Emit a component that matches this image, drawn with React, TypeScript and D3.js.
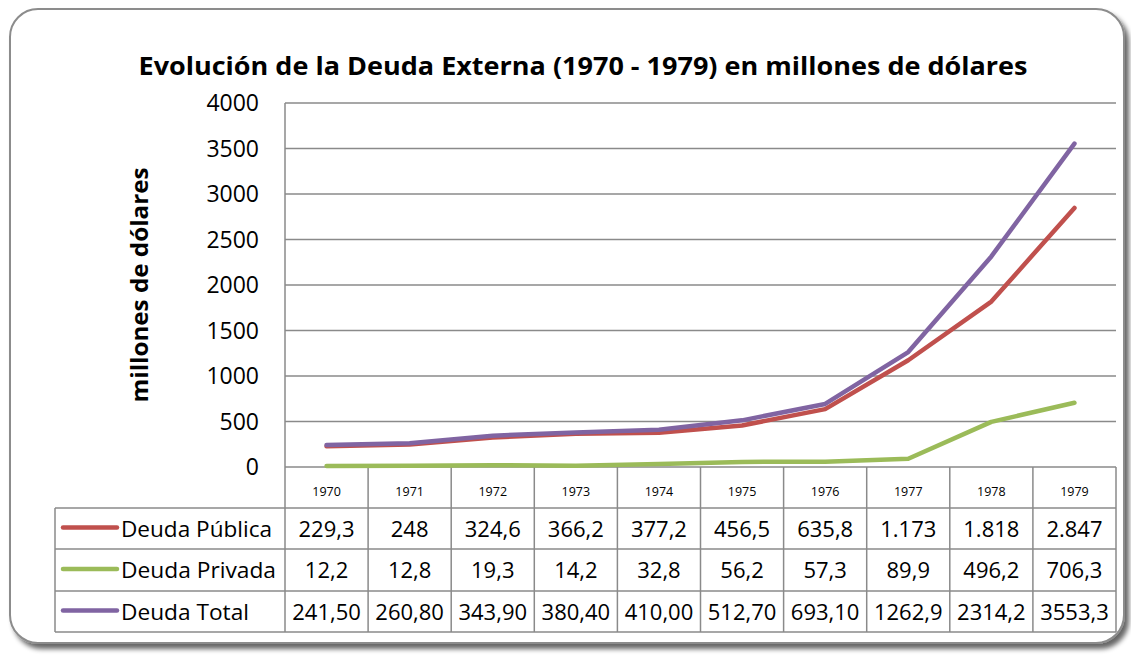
import React from "react";
import * as d3 from "d3";

const years = ["1970", "1971", "1972", "1973", "1974", "1975", "1976", "1977", "1978", "1979"];
const publica = [229.3, 248, 324.6, 366.2, 377.2, 456.5, 635.8, 1173, 1818, 2847];
const privada = [12.2, 12.8, 19.3, 14.2, 32.8, 56.2, 57.3, 89.9, 496.2, 706.3];
const total = [241.5, 260.8, 343.9, 380.4, 410.0, 512.7, 693.1, 1262.9, 2314.2, 3553.3];
const publicaLabels = ["229,3", "248", "324,6", "366,2", "377,2", "456,5", "635,8", "1.173", "1.818", "2.847"];
const privadaLabels = ["12,2", "12,8", "19,3", "14,2", "32,8", "56,2", "57,3", "89,9", "496,2", "706,3"];
const totalLabels = ["241,50", "260,80", "343,90", "380,40", "410,00", "512,70", "693,10", "1262,9", "2314,2", "3553,3"];
const yTicks = [0, 500, 1000, 1500, 2000, 2500, 3000, 3500, 4000];

const series = [
  { name: "Deuda Pública", values: publica, labels: publicaLabels, color: "#C0504D" },
  { name: "Deuda Privada", values: privada, labels: privadaLabels, color: "#9BBB59" },
  { name: "Deuda Total", values: total, labels: totalLabels, color: "#8064A2" },
];

const FONT = "'Open Sans', 'Noto Sans', sans-serif";

export default function App() {
  const W = 1131, H = 655;
  const left = 285, right = 1116, top = 103, bottom = 467;
  const tableLeft = 55;
  const rowLines = [508, 549, 591, 632];

  const x = d3.scaleBand<string>().domain(years).range([left, right]);
  const y = d3.scaleLinear().domain([0, 4000]).range([bottom, top]);

  const lineGen = (vals: number[]) =>
    d3.line<number>()
      .x((_, i) => (x(years[i]) as number) + x.bandwidth() / 2)
      .y((v) => y(v))(vals) as string;

  const gridColor = "#8a8a8a";

  return (
    <svg width={W} height={H} style={{ position: "absolute", left: 0, top: 0, background: "#fff" }}>
      <defs>
        <filter id="sh" x="-5%" y="-5%" width="110%" height="112%">
          <feGaussianBlur in="SourceAlpha" stdDeviation="2.5" />
          <feOffset dx="4" dy="5" result="b" />
          <feComponentTransfer><feFuncA type="linear" slope="0.6" /></feComponentTransfer>
          <feMerge><feMergeNode /><feMergeNode in="SourceGraphic" /></feMerge>
        </filter>
      </defs>
      <rect x={10} y={9} width={1114} height={634} rx={28} ry={28} fill="#fff" stroke="#8c8c8c" strokeWidth={2} filter="url(#sh)" />

      <text x={583} y={75} textAnchor="middle" fontFamily={FONT} fontWeight="bold" fontSize={25} textLength={889} lengthAdjust="spacingAndGlyphs">
        Evolución de la Deuda Externa (1970 - 1979) en millones de dólares
      </text>

      {yTicks.map((t) => (
        <line key={t} x1={left} x2={right} y1={y(t)} y2={y(t)} stroke={gridColor} strokeWidth={1.5} />
      ))}
      <line x1={left} x2={left} y1={top} y2={rowLines[3]} stroke={gridColor} strokeWidth={1.5} />

      {yTicks.map((t) => (
        <text key={"l" + t} x={259} y={y(t) + 8} textAnchor="end" fontFamily={FONT} fontSize={23}>{t}</text>
      ))}

      <text transform="translate(148,285) rotate(-90)" textAnchor="middle" fontFamily={FONT} fontWeight="bold" fontSize={23} textLength={235} lengthAdjust="spacingAndGlyphs">
        millones de dólares
      </text>

      {x.domain().map((yr) => (
        <line key={"v" + yr} x1={(x(yr) as number) + x.bandwidth()} x2={(x(yr) as number) + x.bandwidth()} y1={bottom} y2={rowLines[3]} stroke={gridColor} strokeWidth={1.5} />
      ))}
      {rowLines.map((r) => (
        <line key={"r" + r} x1={tableLeft} x2={right} y1={r} y2={r} stroke={gridColor} strokeWidth={1.5} />
      ))}
      <line x1={tableLeft} x2={tableLeft} y1={rowLines[0]} y2={rowLines[3]} stroke={gridColor} strokeWidth={1.5} />
      {years.map((yr) => (
        <text key={"y" + yr} x={(x(yr) as number) + x.bandwidth() / 2} y={496} textAnchor="middle" fontFamily={FONT} fontSize={12.5}>{yr}</text>
      ))}
      {series.map((s, si) => {
        const cy = (rowLines[si] + rowLines[si + 1]) / 2;
        return (
          <g key={s.name}>
            <line x1={63} x2={117} y1={cy - 1} y2={cy - 1} stroke={s.color} strokeWidth={4.5} strokeLinecap="round" />
            <text x={121} y={cy + 8} fontFamily={FONT} fontSize={22} textLength={s.name === "Deuda Total" ? 128 : s.name === "Deuda Pública" ? 151 : 155} lengthAdjust="spacingAndGlyphs">{s.name}</text>
            {s.labels.map((lab, i) => (
              <text key={i} x={(x(years[i]) as number) + x.bandwidth() / 2} y={cy + 8} textAnchor="middle" fontFamily={FONT} fontSize={22}>{lab}</text>
            ))}
          </g>
        );
      })}

      {[series[1], series[0], series[2]].map((s) => (
        <path key={"p" + s.name} d={lineGen(s.values)} fill="none" stroke={s.color} strokeWidth={4.5} strokeLinecap="round" strokeLinejoin="round" />
      ))}
    </svg>
  );
}
